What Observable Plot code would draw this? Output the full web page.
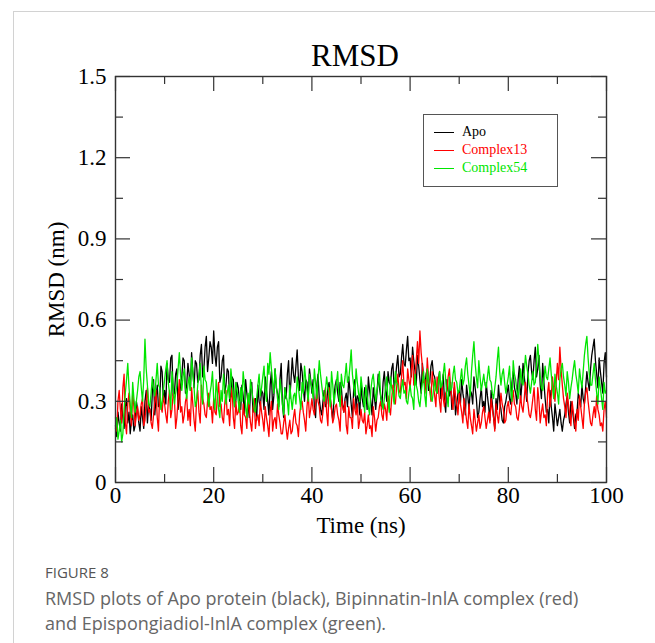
<!DOCTYPE html>
<html><head><meta charset="utf-8">
<script src="https://cdn.jsdelivr.net/npm/d3@7"></script>
<script src="https://cdn.jsdelivr.net/npm/@observablehq/plot@0.6"></script>
<style>
body{margin:0;background:#fff;width:655px;height:643px;overflow:hidden;position:relative;font-family:"Liberation Serif",serif}
#card{position:absolute;left:13px;top:11px;right:0;bottom:0;border-top:1px solid #d2d2d2;border-left:1px solid #d2d2d2}
#chart{position:absolute;left:0;top:0}
#legend{position:absolute;left:423px;top:114px;width:135px;height:73px;border:1px solid #555;box-sizing:border-box;font-size:14px;background:#fff}
.row{position:absolute;left:10px;height:16px;display:flex;align-items:center;white-space:nowrap}
.sw{width:20px;height:0;border-top:1.6px solid;margin-right:8px}
#fig{position:absolute;left:45px;top:562px;font:15px "Open Sans",sans-serif;color:#555}
#cap{position:absolute;left:45px;top:586px;font:18px/25px "Open Sans",sans-serif;color:#666;width:560px}
</style></head>
<body>
<div id="card"></div>
<div id="chart"></div>
<div id="legend"></div>
<div id="fig">FIGURE 8</div>
<div id="cap">RMSD plots of Apo protein (black), Bipinnatin-InlA complex (red) and Epispongiadiol-InlA complex (green).</div>
<script>
const step = 0.25; // ns between samples
const apo = [
0.21,0.17,0.26,0.22,0.19,0.29,0.24,0.20,0.28,0.31,0.22,0.26,0.18,0.23,0.25,0.19,0.21,0.30,0.27,0.22,
0.19,0.28,0.24,0.20,0.30,0.34,0.22,0.29,0.27,0.23,0.33,0.38,0.25,0.31,0.36,0.28,0.29,0.43,0.41,0.30,
0.34,0.29,0.44,0.38,0.37,0.46,0.47,0.32,0.33,0.40,0.42,0.27,0.31,0.36,0.39,0.46,0.45,0.33,0.36,0.44,
0.40,0.34,0.48,0.41,0.35,0.45,0.44,0.37,0.38,0.47,0.51,0.39,0.42,0.50,0.54,0.41,0.46,0.52,0.50,0.44,
0.56,0.47,0.43,0.50,0.52,0.37,0.39,0.45,0.47,0.33,0.36,0.42,0.41,0.30,0.33,0.39,0.38,0.28,0.30,0.37,
0.35,0.30,0.27,0.36,0.32,0.25,0.38,0.33,0.29,0.24,0.34,0.37,0.26,0.30,0.31,0.23,0.36,0.30,0.28,0.34,
0.33,0.27,0.39,0.34,0.30,0.25,0.36,0.41,0.27,0.32,0.42,0.35,0.33,0.28,0.38,0.44,0.29,0.24,0.35,0.31,
0.40,0.45,0.31,0.38,0.46,0.40,0.37,0.43,0.49,0.39,0.34,0.44,0.41,0.35,0.30,0.38,0.37,0.31,0.42,0.38,
0.33,0.38,0.28,0.24,0.36,0.40,0.31,0.27,0.25,0.30,0.34,0.28,0.29,0.35,0.37,0.31,0.27,0.23,0.32,0.36,
0.38,0.33,0.30,0.37,0.35,0.29,0.26,0.31,0.33,0.28,0.39,0.34,0.29,0.24,0.34,0.38,0.27,0.32,0.31,0.25,
0.36,0.31,0.28,0.35,0.33,0.27,0.39,0.34,0.30,0.25,0.35,0.31,0.27,0.33,0.40,0.35,0.32,0.28,0.37,0.41,
0.34,0.30,0.41,0.37,0.36,0.42,0.44,0.35,0.38,0.43,0.47,0.39,0.40,0.46,0.51,0.44,0.43,0.49,0.54,0.45,
0.46,0.39,0.50,0.45,0.41,0.36,0.47,0.43,0.38,0.33,0.44,0.39,0.35,0.40,0.42,0.34,0.37,0.43,0.45,0.40,
0.39,0.35,0.33,0.38,0.41,0.31,0.36,0.40,0.30,0.26,0.38,0.34,0.32,0.37,0.27,0.31,0.35,0.25,0.29,0.33,
0.34,0.29,0.38,0.33,0.30,0.25,0.36,0.32,0.27,0.34,0.33,0.29,0.39,0.35,0.31,0.24,0.26,0.31,0.35,0.28,
0.30,0.26,0.37,0.32,0.28,0.23,0.34,0.29,0.24,0.20,0.31,0.27,0.36,0.30,0.27,0.23,0.22,0.28,0.30,0.33,
0.36,0.31,0.29,0.37,0.41,0.35,0.33,0.29,0.38,0.43,0.30,0.36,0.44,0.39,0.35,0.30,0.40,0.45,0.47,0.41,
0.38,0.45,0.50,0.39,0.42,0.47,0.36,0.31,0.44,0.37,0.31,0.26,0.27,0.22,0.34,0.28,0.24,0.19,0.29,0.25,
0.21,0.24,0.27,0.22,0.19,0.23,0.25,0.29,0.32,0.26,0.22,0.30,0.28,0.24,0.20,0.25,0.26,0.33,0.31,0.28,
0.36,0.31,0.29,0.35,0.41,0.37,0.34,0.42,0.47,0.50,0.53,0.45,0.40,0.35,0.46,0.41,0.37,0.33,0.44,0.48,
0.39];
const complex13 = [
0.24,0.19,0.30,0.34,0.27,0.22,0.35,0.40,0.22,0.18,0.29,0.33,0.26,0.21,0.33,0.28,0.21,0.25,0.28,0.23,
0.25,0.29,0.31,0.21,0.23,0.30,0.35,0.26,0.27,0.22,0.20,0.25,0.30,0.34,0.24,0.19,0.33,0.28,0.26,0.32,
0.29,0.25,0.22,0.30,0.34,0.24,0.27,0.33,0.31,0.20,0.24,0.31,0.38,0.26,0.28,0.22,0.25,0.30,0.32,0.23,
0.27,0.21,0.35,0.29,0.23,0.19,0.30,0.34,0.26,0.22,0.36,0.31,0.29,0.25,0.24,0.30,0.33,0.27,0.28,0.22,
0.31,0.26,0.25,0.32,0.37,0.28,0.29,0.24,0.22,0.29,0.34,0.25,0.27,0.21,0.31,0.35,0.24,0.20,0.30,0.25,
0.26,0.30,0.21,0.18,0.29,0.25,0.24,0.20,0.32,0.27,0.22,0.19,0.27,0.31,0.20,0.24,0.25,0.21,0.30,0.26,
0.23,0.19,0.28,0.24,0.21,0.17,0.26,0.30,0.19,0.23,0.24,0.20,0.29,0.25,0.22,0.18,0.18,0.22,0.25,0.20,
0.16,0.20,0.23,0.18,0.19,0.24,0.27,0.22,0.21,0.17,0.25,0.29,0.30,0.26,0.23,0.19,0.28,0.33,0.24,0.27,
0.31,0.27,0.25,0.29,0.34,0.30,0.28,0.23,0.22,0.26,0.30,0.35,0.26,0.21,0.35,0.31,0.27,0.22,0.24,0.28,
0.29,0.25,0.23,0.19,0.32,0.28,0.26,0.30,0.21,0.18,0.28,0.24,0.24,0.20,0.31,0.27,0.25,0.29,0.20,0.23,
0.27,0.23,0.22,0.26,0.18,0.21,0.25,0.20,0.21,0.17,0.28,0.24,0.19,0.23,0.24,0.28,0.30,0.25,0.23,0.29,
0.27,0.23,0.32,0.28,0.25,0.31,0.36,0.30,0.29,0.35,0.40,0.34,0.33,0.39,0.45,0.36,0.37,0.31,0.42,0.38,
0.35,0.41,0.47,0.36,0.39,0.45,0.52,0.44,0.56,0.48,0.43,0.37,0.38,0.33,0.46,0.39,0.34,0.30,0.41,0.36,
0.32,0.28,0.39,0.35,0.30,0.26,0.36,0.31,0.28,0.33,0.34,0.39,0.42,0.35,0.31,0.27,0.37,0.32,0.29,0.25,
0.33,0.29,0.26,0.22,0.31,0.27,0.23,0.20,0.29,0.24,0.21,0.18,0.27,0.23,0.19,0.22,0.25,0.20,0.22,0.26,
0.28,0.24,0.20,0.23,0.26,0.22,0.31,0.27,0.24,0.19,0.29,0.25,0.22,0.27,0.33,0.29,0.27,0.22,0.23,0.28,
0.30,0.26,0.25,0.30,0.34,0.29,0.28,0.24,0.23,0.27,0.32,0.28,0.26,0.31,0.37,0.32,0.29,0.25,0.24,0.27,
0.31,0.35,0.27,0.23,0.35,0.30,0.22,0.26,0.29,0.24,0.25,0.21,0.33,0.37,0.28,0.32,0.39,0.34,0.30,0.37,
0.44,0.38,0.50,0.42,0.36,0.31,0.28,0.24,0.33,0.29,0.25,0.21,0.30,0.26,0.22,0.19,0.27,0.23,0.32,0.28,
0.24,0.20,0.29,0.33,0.35,0.30,0.26,0.22,0.21,0.25,0.28,0.24,0.32,0.27,0.25,0.21,0.22,0.19,0.27,0.30,
0.24];
const complex54 = [
0.20,0.24,0.16,0.19,0.23,0.15,0.18,0.27,0.33,0.38,0.44,0.35,0.29,0.24,0.37,0.31,0.26,0.30,0.34,0.39,
0.41,0.35,0.30,0.38,0.53,0.42,0.36,0.29,0.28,0.33,0.39,0.35,0.32,0.38,0.44,0.36,0.35,0.27,0.30,0.34,
0.38,0.42,0.45,0.37,0.33,0.27,0.41,0.36,0.29,0.33,0.36,0.42,0.48,0.40,0.34,0.39,0.42,0.35,0.31,0.36,
0.39,0.34,0.46,0.41,0.35,0.28,0.30,0.36,0.40,0.44,0.33,0.29,0.43,0.38,0.37,0.32,0.28,0.33,0.36,0.41,
0.31,0.27,0.38,0.33,0.27,0.24,0.34,0.30,0.40,0.35,0.29,0.33,0.36,0.31,0.42,0.37,0.32,0.28,0.37,0.34,
0.30,0.26,0.35,0.30,0.41,0.36,0.28,0.24,0.33,0.29,0.38,0.34,0.31,0.27,0.26,0.31,0.36,0.40,0.32,0.35,
0.39,0.43,0.34,0.30,0.44,0.40,0.48,0.42,0.37,0.33,0.42,0.36,0.31,0.27,0.38,0.34,0.29,0.25,0.35,0.32,
0.30,0.25,0.36,0.31,0.27,0.32,0.33,0.29,0.39,0.35,0.31,0.27,0.37,0.33,0.43,0.38,0.34,0.30,0.40,0.37,
0.35,0.31,0.42,0.37,0.31,0.38,0.45,0.40,0.36,0.32,0.30,0.34,0.39,0.35,0.33,0.28,0.41,0.36,0.29,0.33,
0.37,0.41,0.32,0.28,0.40,0.36,0.35,0.39,0.44,0.37,0.38,0.43,0.49,0.40,0.36,0.32,0.42,0.37,0.33,0.30,
0.39,0.35,0.31,0.26,0.36,0.32,0.28,0.25,0.34,0.38,0.40,0.35,0.30,0.34,0.37,0.41,0.32,0.29,0.27,0.31,
0.35,0.39,0.30,0.26,0.39,0.35,0.33,0.29,0.41,0.37,0.36,0.32,0.31,0.35,0.38,0.33,0.34,0.30,0.29,0.33,
0.36,0.32,0.31,0.27,0.40,0.36,0.34,0.30,0.28,0.33,0.37,0.41,0.32,0.28,0.42,0.38,0.35,0.31,0.30,0.34,
0.38,0.34,0.33,0.37,0.41,0.35,0.36,0.40,0.44,0.38,0.32,0.28,0.39,0.34,0.35,0.40,0.43,0.38,0.37,0.33,
0.34,0.38,0.42,0.36,0.38,0.43,0.46,0.40,0.36,0.32,0.41,0.47,0.52,0.44,0.39,0.35,0.45,0.39,0.34,0.37,
0.40,0.36,0.35,0.39,0.43,0.38,0.37,0.33,0.31,0.35,0.39,0.45,0.50,0.41,0.36,0.40,0.42,0.37,0.33,0.36,
0.39,0.43,0.34,0.30,0.45,0.40,0.38,0.34,0.31,0.36,0.42,0.37,0.36,0.41,0.47,0.43,0.40,0.36,0.33,0.37,
0.41,0.36,0.37,0.44,0.51,0.45,0.39,0.35,0.34,0.38,0.43,0.39,0.38,0.42,0.46,0.40,0.35,0.31,0.40,0.36,
0.33,0.29,0.38,0.42,0.44,0.39,0.36,0.32,0.41,0.37,0.31,0.35,0.38,0.42,0.45,0.40,0.37,0.33,0.42,0.38,
0.35,0.41,0.47,0.51,0.54,0.46,0.40,0.36,0.36,0.40,0.44,0.38,0.33,0.29,0.39,0.35,0.31,0.27,0.37,0.33,
0.34];
const seriesNames = ["Apo", "Complex13", "Complex54"];
const seriesColors = ["#000000", "#ff0000", "#00e600"];
const xTicks = [0, 20, 40, 60, 80, 100];
const xMinor = [10, 30, 50, 70, 90];
const yTicks = [0, 0.3, 0.6, 0.9, 1.2, 1.5];
const yMinor = [0.15, 0.45, 0.75, 1.05, 1.35];
const yTickLabels = ["0", "0.3", "0.6", "0.9", "1.2", "1.5"];

const seriesValues = [apo, complex13, complex54];
const rows = [];
seriesValues.forEach((arr, k) => arr.forEach((v, i) => rows.push({t: i * step, v, s: seriesNames[k]})));

const W = 655, H = 540, mL = 115, mR = 49, mT = 76, mB = 58;
const fw = W - mL - mR, fh = H - mT - mB;
const major = 15, minor = 8, tc = "#333";

const chart = Plot.plot({
  width: W, height: H, marginLeft: mL, marginRight: mR, marginTop: mT, marginBottom: mB,
  x: {domain: [0, 100]},
  y: {domain: [0, 1.5]},
  style: {fontFamily: "Liberation Serif", fontSize: "23px", color: "#000", background: "transparent", overflow: "visible"},
  marks: [
    ...seriesNames.map((n, k) => Plot.line(rows.filter(r => r.s === n), {x: "t", y: "v", stroke: seriesColors[k], strokeWidth: 1.3})),
    Plot.ruleX(xTicks, {insetTop: fh - major, stroke: tc, strokeWidth: 1.2}),
    Plot.ruleX(xTicks, {insetBottom: fh - major, stroke: tc, strokeWidth: 1.2}),
    Plot.ruleX(xMinor, {insetTop: fh - minor, stroke: tc, strokeWidth: 1.2}),
    Plot.ruleX(xMinor, {insetBottom: fh - minor, stroke: tc, strokeWidth: 1.2}),
    Plot.ruleY(yTicks, {insetRight: fw - major, stroke: tc, strokeWidth: 1.2}),
    Plot.ruleY(yTicks, {insetLeft: fw - major, stroke: tc, strokeWidth: 1.2}),
    Plot.ruleY(yMinor, {insetRight: fw - minor, stroke: tc, strokeWidth: 1.2}),
    Plot.ruleY(yMinor, {insetLeft: fw - minor, stroke: tc, strokeWidth: 1.2}),
    Plot.frame({stroke: "#333", strokeWidth: 1.4}),
    Plot.axisX({ticks: xTicks, tickSize: 0, tickPadding: 4, fontSize: 23, label: "Time (ns)", labelAnchor: "center", labelArrow: "none", labelOffset: 50}),
    Plot.axisY({ticks: yTicks, tickSize: 0, tickPadding: 9, fontSize: 23, tickFormat: (d, i) => yTickLabels[i], label: "RMSD (nm)", labelAnchor: "center", labelArrow: "none", labelOffset: 68}),
    Plot.text(["RMSD"], {text: d => d, frameAnchor: "top", dy: -11, dx: -6, fontSize: 31, lineAnchor: "bottom"})
  ]
});
document.getElementById("chart").appendChild(chart);

const legend = document.getElementById("legend");
seriesNames.forEach((n, k) => {
  const row = document.createElement("div");
  row.className = "row";
  row.style.top = (9 + k * 18) + "px";
  row.style.color = seriesColors[k];
  const sw = document.createElement("span");
  sw.className = "sw";
  sw.style.borderTopColor = seriesColors[k];
  row.appendChild(sw);
  row.appendChild(document.createTextNode(n));
  legend.appendChild(row);
});
</script>
</body></html>
